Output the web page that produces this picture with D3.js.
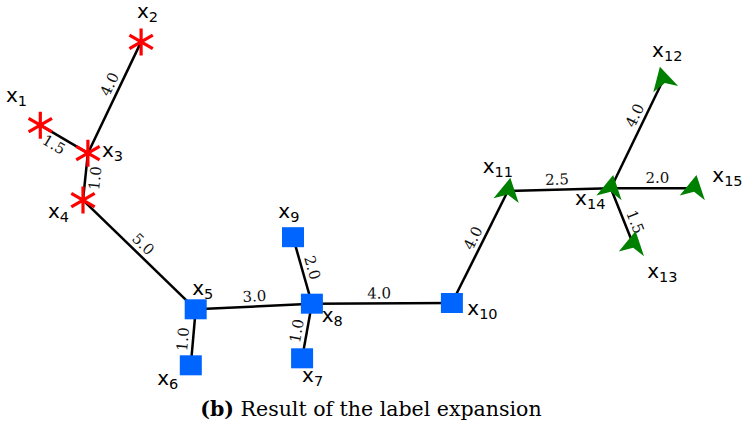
<!DOCTYPE html>
<html>
<head>
<meta charset="utf-8">
<script src="https://cdn.jsdelivr.net/npm/d3@7/dist/d3.min.js"></script>
<style>
    html, body { margin: 0; padding: 0; background: #ffffff; }
    svg { display: block; }
</style>
</head>
<body>
<div id="chart"></div>
<script>
    // Node data (layout units)
    var nodeIds = [1, 2, 3, 4, 5, 6, 7, 8, 9, 10, 11, 12, 13, 14, 15];
    var nodeX = [0.29, 1.73, 0.97, 0.90, 2.51, 2.44, 4.03, 4.17, 3.90, 6.17, 6.97, 9.19, 8.76, 8.44, 9.63];
    var nodeY = [3.64, 4.83, 3.24, 2.57, 1.01, 0.21, 0.31, 1.09, 2.04, 1.10, 2.70, 4.29, 1.94, 2.74, 2.74];
    var nodeGroup = ["a", "a", "a", "a", "b", "b", "b", "b", "b", "b", "c", "c", "c", "c", "c"];

    // Label placement after expansion (layout units)
    var labelX = [-0.20, 1.67, 1.17, 0.40, 2.46, 1.96, 4.03, 4.31, 3.69, 6.39, 6.61, 9.03, 8.96, 7.93, 9.89];
    var labelY = [3.97, 5.17, 3.19, 2.31, 1.21, -0.07, -0.03, 0.83, 2.31, 0.93, 2.96, 4.61, 1.46, 2.50, 2.83];

    // Edges
    var edgeSource = [1, 3, 4, 4, 6, 5, 9, 7, 8, 10, 11, 14, 14, 14];
    var edgeTarget = [3, 2, 3, 5, 5, 8, 8, 8, 10, 11, 14, 12, 15, 13];
    var edgeWeight = [1.5, 4.0, 1.0, 5.0, 1.0, 3.0, 2.0, 1.0, 4.0, 4.0, 2.5, 4.0, 2.0, 1.5];
    var edgeLabelT = [0.39, 0.58, 0.49, 0.47, 0.45, 0.51, 0.50, 0.47, 0.48, 0.54, 0.48, 0.63, 0.56, 0.67];
    var edgeLabelSide = [-1, 1, -1, 1, 1, 1, 1, 1, 1, 1, 1, 1, 1, 1];

    var caption = "Result of the label expansion";

    var width = 745,
        height = 425;

    var x = d3.scaleLinear().domain([0, 10]).range([20, 720]);
    var y = d3.scaleLinear().domain([0, 5]).range([380, 30]);

    var svg = d3.select("#chart")
        .append("svg")
        .attr("width", width)
        .attr("height", height);

    var nodes = nodeIds.map(function (id, i) {
        return { id: id, x: nodeX[i], y: nodeY[i], group: nodeGroup[i], lx: labelX[i], ly: labelY[i] };
    });
    var byId = {};
    nodes.forEach(function (n) { byId[n.id] = n; });

    var edges = edgeSource.map(function (s, i) {
        return { s: byId[s], t: byId[edgeTarget[i]], w: edgeWeight[i], pos: edgeLabelT[i], side: edgeLabelSide[i] };
    });

    // Edges
    svg.append("g")
        .selectAll("line")
        .data(edges)
        .enter()
        .append("line")
        .attr("x1", function (d) { return x(d.s.x); })
        .attr("y1", function (d) { return y(d.s.y); })
        .attr("x2", function (d) { return x(d.t.x); })
        .attr("y2", function (d) { return y(d.t.y); })
        .style("stroke", "#000")
        .style("stroke-width", 2.5);

    // Edge weights, rotated along the edge
    svg.append("g")
        .selectAll("text")
        .data(edges)
        .enter()
        .append("text")
        .attr("transform", function (d) {
            var x1 = x(d.s.x), y1 = y(d.s.y), x2 = x(d.t.x), y2 = y(d.t.y);
            var dx = x2 - x1, dy = y2 - y1;
            var px = x1 + dx * d.pos, py = y1 + dy * d.pos;
            var ang = Math.atan2(dy, dx) * 180 / Math.PI;
            if (ang > 90) ang -= 180;
            if (ang < -90) ang += 180;
            var a = ang * Math.PI / 180;
            // "up" in text frame
            var ux = Math.sin(a), uy = -Math.cos(a);
            var off = 10 * d.side;
            return "translate(" + (px + ux * off) + "," + (py + uy * off) + ") rotate(" + ang + ")";
        })
        .attr("text-anchor", "middle")
        .attr("dominant-baseline", "central")
        .style("font-family", "'DejaVu Serif', serif")
        .style("font-size", "15px")
        .style("fill", "#111")
        .text(function (d) { return d.w.toFixed(1); });

    // Markers
    var starPath = (function () {
        var r = 13.5, p = "";
        [90, 30, 150].forEach(function (deg) {
            var a = deg * Math.PI / 180;
            p += "M" + (r * Math.cos(a)) + "," + (-r * Math.sin(a)) +
                 "L" + (-r * Math.cos(a)) + "," + (r * Math.sin(a));
        });
        return p;
    })();
    var dartPath = "M2.4,-13.2L10.8,12L0,3.6L-14.4,7.2Z";
    var markerTilt = { 12: -25 };

    var mk = svg.append("g")
        .selectAll("g")
        .data(nodes)
        .enter()
        .append("g")
        .attr("transform", function (d) {
            return "translate(" + x(d.x) + "," + y(d.y) + ") rotate(" + (markerTilt[d.id] || 0) + ")";
        });

    mk.filter(function (d) { return d.group === "a"; })
        .append("path")
        .attr("d", starPath)
        .style("stroke", "#ff0000")
        .style("stroke-width", 3.2)
        .style("fill", "none");

    mk.filter(function (d) { return d.group === "b"; })
        .append("rect")
        .attr("x", -11)
        .attr("y", -10)
        .attr("width", 22)
        .attr("height", 20)
        .style("fill", "#0064ff");

    mk.filter(function (d) { return d.group === "c"; })
        .append("path")
        .attr("d", dartPath)
        .style("fill", "#008000");

    // Node labels x_i
    var lab = svg.append("g")
        .selectAll("text")
        .data(nodes)
        .enter()
        .append("text")
        .attr("x", function (d) { return x(d.lx); })
        .attr("y", function (d) { return y(d.ly); })
        .style("font-family", "'DejaVu Sans', sans-serif")
        .style("font-size", "20px")
        .style("fill", "#000");

    lab.append("tspan").text("x");
    lab.append("tspan")
        .attr("dy", 4)
        .style("font-size", "14.5px")
        .text(function (d) { return d.id; });

    // Caption
    var cap = svg.append("text")
        .attr("x", 371)
        .attr("y", 416)
        .attr("text-anchor", "middle")
        .style("font-family", "'DejaVu Serif', serif")
        .style("font-size", "20.5px")
        .style("fill", "#000");
    cap.append("tspan").style("font-weight", "bold").text("(b)");
    cap.append("tspan").text(" " + caption);
</script>
</body>
</html>
